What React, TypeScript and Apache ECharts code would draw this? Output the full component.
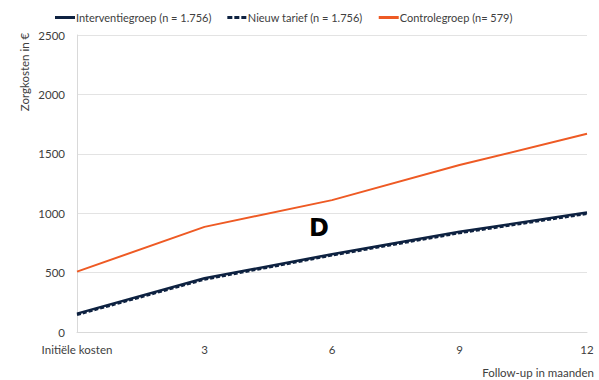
import React, { useEffect, useRef } from "react";
import * as echarts from "echarts";

const categories = ["Initiële kosten", "3", "6", "9", "12"];
const interventie = [155, 452, 655, 843, 1005];
const nieuwTarief = [145, 442, 645, 833, 995];
const controle = [508, 885, 1110, 1405, 1668];
const yTicks = [0, 500, 1000, 1500, 2000, 2500];

const FONT = "Lato";
const NAVY = "#0e2241";
const ORANGE = "#ee5a24";

export default function App() {
  const ref = useRef<HTMLDivElement>(null);

  useEffect(() => {
    if (!ref.current) return;
    const chart = echarts.init(ref.current, undefined, { renderer: "svg" });
    chart.setOption({
      animation: false,
      backgroundColor: "#ffffff",
      textStyle: { fontFamily: FONT },
      legend: {
        top: 7,
        left: 50,
        itemWidth: 20,
        itemHeight: 3,
        itemGap: 16,
        textStyle: { fontFamily: FONT, fontSize: 11, color: "#404040", padding: [0, 0, 0, -4] },
        data: [
          { name: "Interventiegroep (n = 1.756)", icon: "rect" },
          { name: "Nieuw tarief (n = 1.756)", icon: "path://M0,0H5V3H0Z M7,0H12V3H7Z M14,0H19V3H14Z" },
          { name: "Controlegroep (n= 579)", icon: "rect" },
        ],
      },
      grid: { left: 77, right: 12, top: 35, bottom: 48, containLabel: false },
      xAxis: {
        type: "category",
        data: categories,
        boundaryGap: false,
        axisLine: { show: true, lineStyle: { color: "#d9d9d9", width: 1 } },
        axisTick: { show: false },
        axisLabel: { color: "#404040", fontSize: 11.5, fontFamily: FONT, margin: 11 },
        splitLine: { show: false },
      },
      yAxis: {
        type: "value",
        min: yTicks[0],
        max: yTicks[yTicks.length - 1],
        interval: 500,
        axisLine: { show: true, lineStyle: { color: "#d9d9d9", width: 1 } },
        axisTick: { show: false },
        axisLabel: {
          color: "#404040",
          fontSize: 11.5,
          fontFamily: FONT,
          margin: 12,
          formatter: (v: number) => String(v),
        },
        splitLine: { show: true, lineStyle: { color: "#e3e3e3", width: 1 } },
      },
      series: [
        {
          name: "Interventiegroep (n = 1.756)",
          type: "line",
          data: interventie,
          symbol: "none",
          itemStyle: { color: NAVY },
          lineStyle: { color: NAVY, width: 2.5 },
        },
        {
          name: "Nieuw tarief (n = 1.756)",
          type: "line",
          data: nieuwTarief,
          symbol: "none",
          itemStyle: { color: NAVY },
          lineStyle: { color: NAVY, width: 2.5, type: [4, 2] },
        },
        {
          name: "Controlegroep (n= 579)",
          type: "line",
          data: controle,
          symbol: "none",
          itemStyle: { color: ORANGE },
          lineStyle: { color: ORANGE, width: 2 },
        },
      ],
      graphic: [
        {
          type: "text",
          x: 24,
          y: 72,
          rotation: Math.PI / 2,
          style: {
            text: "Zorgkosten in €",
            fontFamily: FONT,
            fontSize: 11.5,
            fill: "#404040",
            align: "center",
            verticalAlign: "middle",
          },
        },
        {
          type: "text",
          x: 594,
          y: 372,
          style: {
            text: "Follow-up in maanden",
            fontFamily: FONT,
            fontSize: 11.5,
            fill: "#404040",
            align: "right",
            verticalAlign: "middle",
          },
        },
        {
          type: "text",
          x: 319,
          y: 228,
          style: {
            text: "D",
            fontFamily: "DejaVu Sans",
            fontWeight: "bold",
            fontSize: 24,
            fill: "#000000",
            align: "center",
            verticalAlign: "middle",
          },
        },
      ],
    });
    return () => chart.dispose();
  }, []);

  return (
    <div
      ref={ref}
      style={{ position: "fixed", left: 0, top: 0, width: 599, height: 380 }}
    />
  );
}
